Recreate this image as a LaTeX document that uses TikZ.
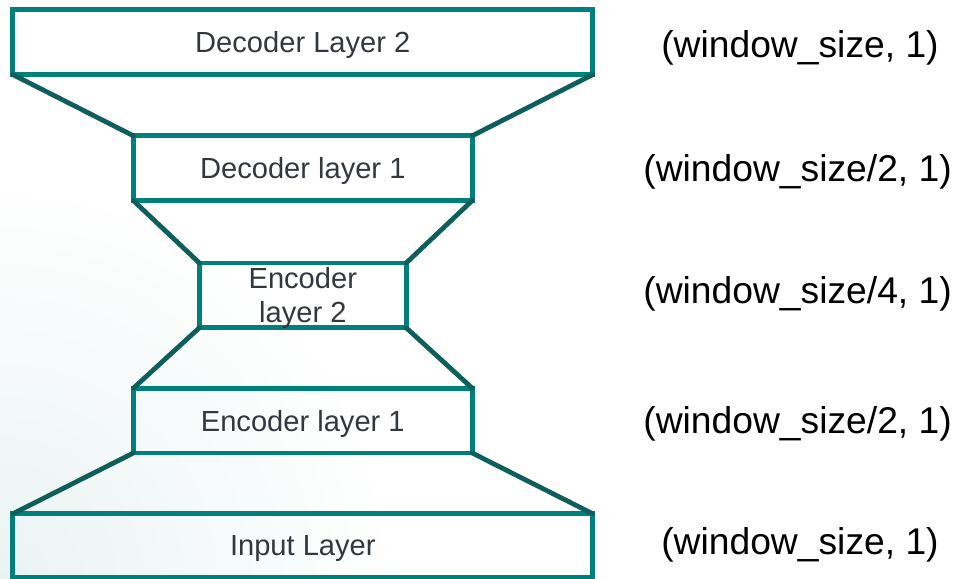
\documentclass[tikz,border=0pt]{standalone}
\usepackage{fontspec}
\setmainfont{Liberation Sans}

\definecolor{boxteal}{RGB}{0,128,122}
\definecolor{linkteal}{RGB}{14,95,91}
\definecolor{layergray}{RGB}{50,56,62}
\definecolor{bgtint}{RGB}{234,243,243}

\begin{document}
\begin{tikzpicture}[
    layer/.style={rectangle,draw=boxteal,line width=3.4pt,inner sep=0pt,outer sep=0pt,
                  minimum height=1.62cm,text=layergray,align=center,text depth=0pt,
                  font=\fontsize{20.7}{24.1}\selectfont},
    dims/.style={text=black,font=\fontsize{26.5}{31}\selectfont},
    link/.style={draw=linkteal,line width=3.4pt,line cap=round}
  ]
            \useasboundingbox (0,0) rectangle (23.925,14.475);
            \begin{scope}
              \clip (0,0) rectangle (23.925,14.475);
              \shade[inner color=bgtint,outer color=white] (0,0) circle (10);
            \end{scope}

            \node[layer,minimum width=14.50cm] (dec2) at ( 7.57,13.42) {Decoder Layer 2};
            \node[layer,minimum width= 8.47cm] (dec1) at ( 7.57,10.27) {Decoder layer 1};
            \node[layer,minimum width= 5.17cm] (enc2) at ( 7.57, 7.09) {Encoder\\layer 2};
            \node[layer,minimum width= 8.47cm] (enc1) at ( 7.57, 3.96) {Encoder layer 1};
            \node[layer,minimum width=14.50cm,minimum height=1.58cm] (inp) at ( 7.57, 0.84) {Input Layer};

            \node[dims] (dimdec2) at (20.00,13.27) {(window\_size, 1)};
            \node[dims] (dimdec1) at (19.94,10.18) {(window\_size/2, 1)};
            \node[dims] (dimenc2) at (19.94, 7.14) {(window\_size/4, 1)};
            \node[dims] (dimenc1) at (19.94, 3.88) {(window\_size/2, 1)};
            \node[dims] (diminp)  at (20.00, 0.85) {(window\_size, 1)};

            \draw[link] (dec2.south west) to (dec1.north west);
            \draw[link] (dec2.south east) to (dec1.north east);
            \draw[link] (dec1.south west) to (enc2.north west);
            \draw[link] (dec1.south east) to (enc2.north east);
            \draw[link] (enc2.south west) to (enc1.north west);
            \draw[link] (enc2.south east) to (enc1.north east);
            \draw[link] (enc1.south west) to (inp.north west);
            \draw[link] (enc1.south east) to (inp.north east);
          \end{tikzpicture}
\end{document}
